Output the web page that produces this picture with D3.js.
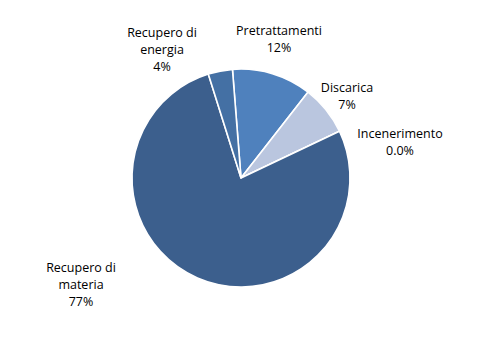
<!DOCTYPE html>
<html><head><meta charset="utf-8">
<script src="https://cdn.jsdelivr.net/npm/d3@7/dist/d3.min.js"></script>
<style>html,body{margin:0;padding:0;background:#fff;}</style>
</head><body>
<script>
// Data (clockwise from the top-left boundary)
const categories = ["Pretrattamenti", "Discarica", "Incenerimento", "Recupero di materia", "Recupero di energia"];
const values = [11.8, 7.4, 0.0, 77.2, 3.6];
const labelLines = [["Pretrattamenti"], ["Discarica"], ["Incenerimento"], ["Recupero di", "materia"], ["Recupero di", "energia"]];
const pctLabels = ["12%", "7%", "0.0%", "77%", "4%"];

// Layout / style
const W = 485, H = 358;
const cx = 241, cy = 178, R = 109;
const colors = ["#4f81bd", "#bac6df", "#8aa0c6", "#3c5f8d", "#4470a4"];
const startDeg = -4.5;
// label anchor (center x, first baseline y) in pixels
const labelAnchors = [[279, 35], [347, 92], [400, 138], [81, 272], [162, 37]];
const lineH = 17;

const svg = d3.select("body").append("svg").attr("width", W).attr("height", H);
const g = svg.append("g").attr("transform", `translate(${cx},${cy})`);

const pie = d3.pie().sort(null).value(d => d)
  .startAngle(startDeg * Math.PI / 180)
  .endAngle((startDeg + 360) * Math.PI / 180);
const arcs = pie(values);
const arc = d3.arc().innerRadius(0).outerRadius(R);

g.selectAll("path").data(arcs).enter().append("path")
  .attr("d", arc)
  .attr("fill", (d, i) => colors[i])
  .attr("stroke", "#fff")
  .attr("stroke-width", 1.6)
  .attr("stroke-linejoin", "round");

const lab = svg.append("g")
  .attr("font-family", "'Open Sans', sans-serif")
  .attr("font-size", 12.5)
  .attr("fill", "#000")
  .attr("text-anchor", "middle");

categories.forEach((c, i) => {
  const lines = labelLines[i].concat([pctLabels[i]]);
  const t = lab.append("text").attr("x", labelAnchors[i][0]).attr("y", labelAnchors[i][1]);
  lines.forEach((ln, j) => {
    t.append("tspan").attr("x", labelAnchors[i][0]).attr("dy", j === 0 ? 0 : lineH).text(ln);
  });
});
</script>
</body></html>
